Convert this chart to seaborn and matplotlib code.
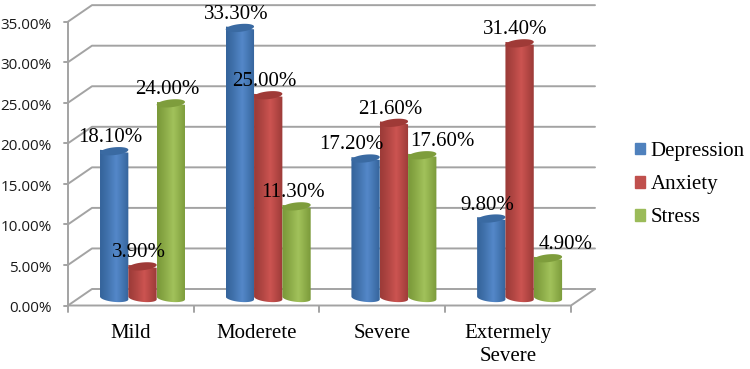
import matplotlib
matplotlib.use("Agg")
import matplotlib.pyplot as plt
from matplotlib.patches import PathPatch, Patch
from matplotlib.path import Path
import numpy as np
import pandas as pd
import seaborn as sns

categories = ["Mild", "Moderete", "Severe", "Extermely\nSevere"]
depression = [18.1, 33.3, 17.2, 9.8]
anxiety = [3.9, 25.0, 21.6, 31.4]
stress = [24.0, 11.3, 17.6, 4.9]
y_ticks = [0, 5, 10, 15, 20, 25, 30, 35]

series = ["Depression", "Anxiety", "Stress"]
colors = ["#4f81bd", "#c0504d", "#9bbb59"]
# edge / middle / cap colours of the cylinders
shades = [("#35649b", "#5488c9", "#3a6aa2"),
          ("#9c3b38", "#cc5451", "#9f3a37"),
          ("#7b9a3a", "#a2c25b", "#7e9d3c")]

datos = pd.DataFrame({"cat": categories * 3,
                      "serie": np.repeat(series, 4),
                      "valor": depression + anxiety + stress})

# pixel layout of the picture
W, H = 750, 369
px_x = 125.7   # pixels per category
px_y = 8.11    # pixels per percent
x0_px = 142.5  # centre of first group
y0_px = 298.0  # base of the bars

sns.set_theme(style="white")
fig = plt.figure(figsize=(7.5, 3.69), dpi=100)
ax = fig.add_axes([0, 0, 1, 1])

sns.barplot(x="cat", y="valor", hue="serie", data=datos, palette=colors,
            width=0.676, gap=0, errorbar=None, legend=False, ax=ax, zorder=3)

ax.axis("off")


def X(p):
    return (p - x0_px) / px_x


def Y(p):
    return (y0_px - p) / px_y


grid_col = "#a3a3a3"
lw = 1.4
left_f, right_f, left_b, right_b = 68, 571, 92, 595
y_front = 305.5
y_back = 289.0

# paredes y lineas de la rejilla
for t in y_ticks:
    yf = Y(y_front) + t
    yb = Y(y_back) + t
    ax.plot([X(left_f), X(left_b), X(right_b)], [yf, yb, yb], color=grid_col, lw=lw, zorder=1)
    ax.plot([X(64), X(left_f)], [yf, yf], color=grid_col, lw=lw, zorder=1)
    ax.text(X(52), yf - 3.5 / px_y, "%.2f%%" % t, ha="right", va="center",
            fontsize=11, family="Open Sans", color="#1a1a1a")

ax.plot([X(left_f), X(left_f)], [Y(y_front), Y(y_front) + 35], color=grid_col, lw=lw, zorder=1)
ax.plot([X(left_f), X(right_f), X(right_b)], [Y(y_front), Y(y_front), Y(y_back)],
        color=grid_col, lw=lw, zorder=2)
for k in range(5):
    xk = X(left_f) + k * (X(right_f) - X(left_f)) / 4
    ax.plot([xk, xk], [Y(y_front), Y(312)], color=grid_col, lw=lw, zorder=2)

# cilindros sobre las barras
t = np.linspace(0, 2 * np.pi, 60)
for i, cont in enumerate(ax.containers):
    edge, mid, cap = shades[i]
    cmap = matplotlib.colors.LinearSegmentedColormap.from_list("c", [edge, mid, edge])
    grad = np.linspace(0, 1, 64).reshape(1, -1) ** 1.2
    for bar in cont:
        x, w, h = bar.get_x(), bar.get_width(), bar.get_height()
        cx = x + w / 2
        a, b = w / 2, 3.9 / px_y
        tilt = 1.4 / px_y
        # cuerpo: fondo del cilindro y luego la tapa
        tb = np.linspace(0, np.pi, 30)
        xs = np.r_[cx - a * np.cos(tb), cx + a * np.cos(tb)]
        ys = np.r_[-b * np.sin(tb) + tilt * np.cos(tb), h + tilt * np.cos(tb) * -1]
        body = Path(np.column_stack([xs, ys]))
        im = ax.imshow(grad, cmap=cmap, extent=[x, x + w, -1, h + 1], aspect="auto",
                       zorder=3 + i * 0.1, interpolation="bilinear")
        im.set_clip_path(PathPatch(body, transform=ax.transData))
        bar.set_visible(False)
        top = np.column_stack([cx + a * np.cos(t), h + b * np.sin(t) + tilt * np.cos(t)])
        ax.fill(top[:, 0], top[:, 1], color=cap, lw=0, zorder=3.05 + i * 0.1)

ax.set_xlim(-x0_px / px_x, (W - x0_px) / px_x)
ax.set_ylim((y0_px - H) / px_y, y0_px / px_y)

# etiquetas de los datos
shift = {(0, 2): (-14, 14), (2, 2): (20, 13.5), (2, 3): (17.5, 13.5)}
for i, cont in enumerate(ax.containers):
    for j, bar in enumerate(cont):
        dx, dy = shift.get((i, j), (-4, 13.5))
        ax.annotate("%.2f%%" % bar.get_height(),
                    (bar.get_x() + bar.get_width() / 2, bar.get_height()),
                    xytext=(dx * 0.72, dy * 0.72), textcoords="offset points",
                    ha="center", va="center", fontsize=15,
                    family="Liberation Serif", color="black", zorder=6)

# nombres de las categorias
for k, c in enumerate(categories):
    ax.text(X(131 + k * 125.7), Y(324), c, ha="center", va="top", fontsize=15,
            family="Liberation Serif", color="black", linespacing=1.3)

handles = [Patch(color=c, label=s) for c, s in zip(colors, series)]
ax.legend(handles=handles, loc="center left", bbox_to_anchor=(635 / W, 1 - 184.5 / H),
          bbox_transform=fig.transFigure, frameon=False, handlelength=0.5, handleheight=0.5,
          handletextpad=0.25, labelspacing=0.68, borderpad=0, borderaxespad=0,
          prop={"family": "Liberation Serif", "size": 15}, labelcolor="black")

fig.savefig("out.png", dpi=100)
